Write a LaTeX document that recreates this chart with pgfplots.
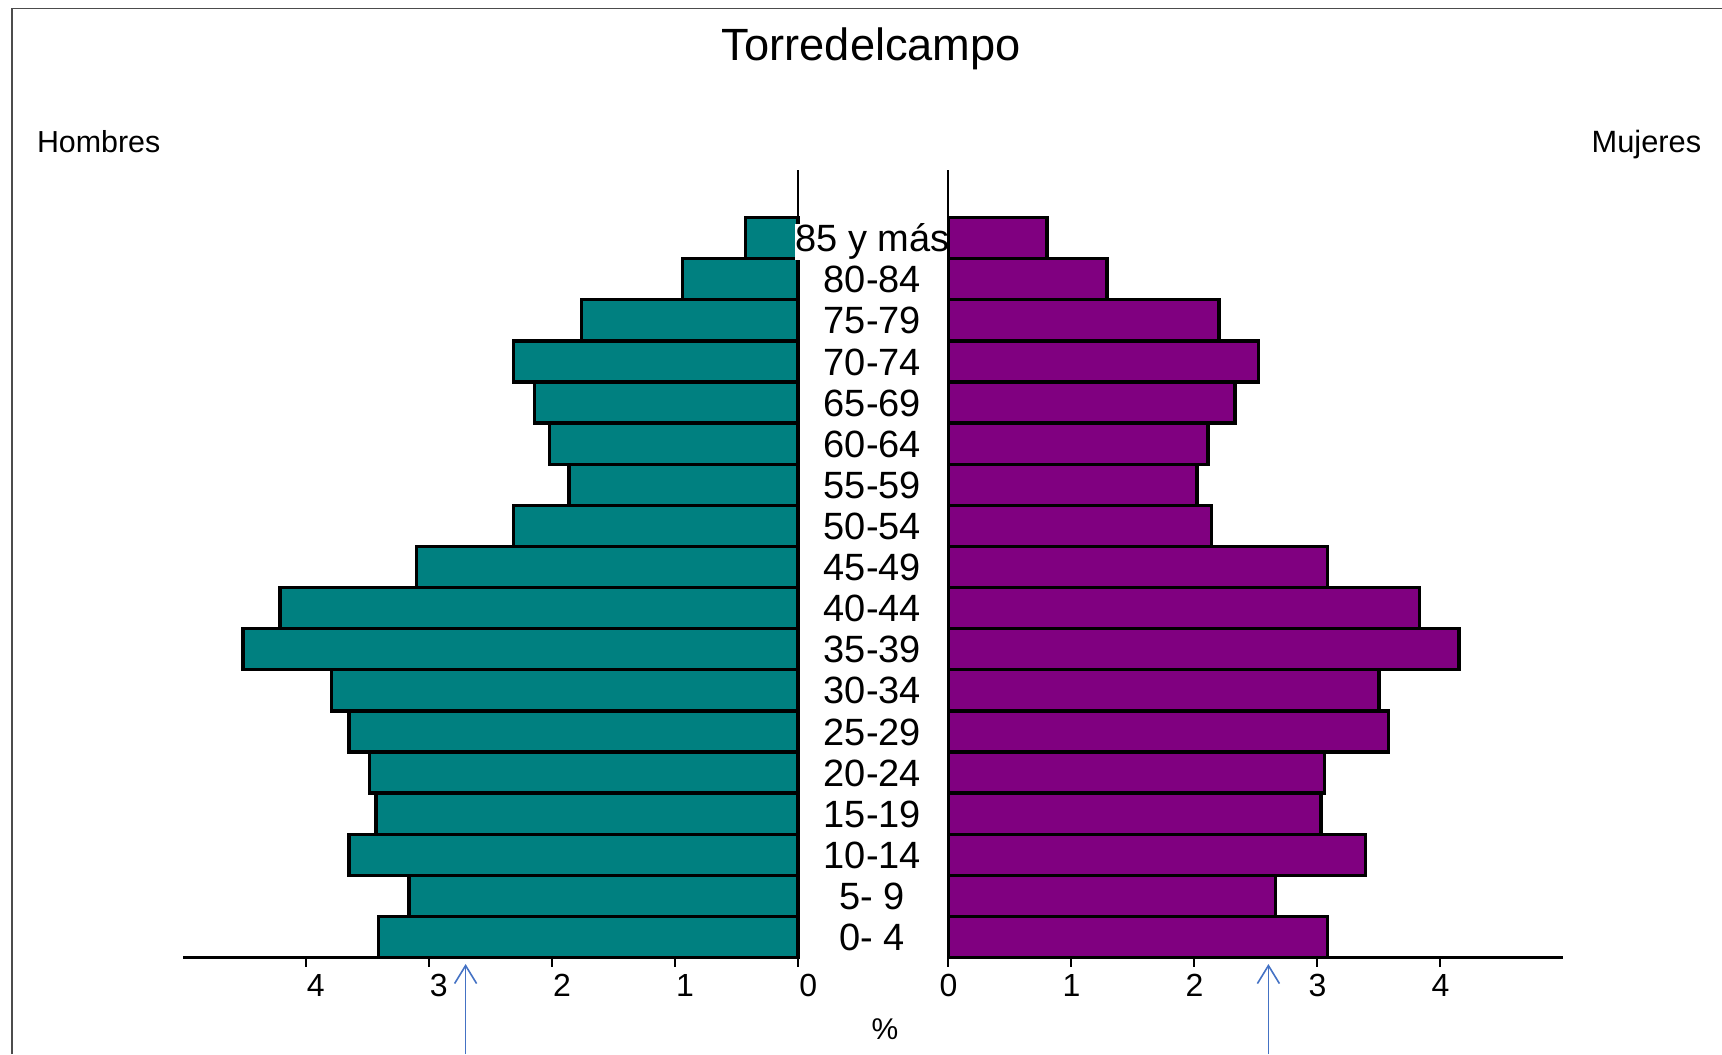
\documentclass[border=0pt]{standalone}
\usepackage{fontspec}
\setmainfont{Liberation Sans}
\usepackage{pgfplots}
\usepackage{pgfplotstable}
\pgfplotsset{compat=1.18}
\usetikzlibrary{arrows.meta}
\definecolor{menteal}{RGB}{0,128,128}
\definecolor{wompurple}{RGB}{128,0,128}
\definecolor{arrowblue}{RGB}{68,114,196}

\pgfplotstableread{
y men
0 3.41
1 3.16
2 3.65
3 3.43
4 3.48
5 3.65
6 3.79
7 4.51
8 4.21
9 3.10
10 2.31
11 1.86
12 2.02
13 2.14
14 2.31
15 1.76
16 0.94
17 0.43
}\menTable
\pgfplotstableread{
y women
0 3.08
1 2.66
2 3.39
3 3.03
4 3.06
5 3.58
6 3.50
7 4.15
8 3.83
9 3.08
10 2.14
11 2.02
12 2.11
13 2.33
14 2.52
15 2.20
16 1.29
17 0.80
}\womenTable

\pgfplotsset{
  pyr/.style={
    scale only axis,
    anchor=south west,
    height=196.85pt,
    xmin=0, xmax=5,
    ymin=-0.5, ymax=18.65,
    xbar, bar width=1,
    xtick={0,1,2,3,4},
    tick align=outside,
    major tick length=2.3pt,
    xtick style={black, line width=0.5pt},
    axis x line*=bottom,
    x axis line style={-, black, line width=0.8pt},
    /pgf/number format/assume math mode=true,
    xticklabel style={font=\fontsize{8}{9}\selectfont, yshift=1.7pt},
    clip=false,
  }
}

\begin{document}
\begin{tikzpicture}[x=0.25pt,y=0.25pt]
\useasboundingbox (0,0) rectangle (1722,1054);
\draw[gray!60!black, line width=0.4pt] (11.7,0) -- (11.7,1045.7) -- (1722,1045.7);

% Men (left)
\begin{axis}[pyr,
  at={(45.65pt,24.1pt)},
  width=153.9pt,
  x dir=reverse,
  hide y axis,
  xticklabel style={xshift=2.5pt},
]
\addplot[fill=menteal, draw=black, line width=0.85pt] table[x=men, y=y] {\menTable};
\draw[black, line width=0.5pt] (axis cs:0,-0.5) -- (axis cs:0,18.65);
\end{axis}

% Women (right)
\begin{axis}[pyr,
  at={(237.1pt,24.1pt)},
  width=153.75pt,
  axis y line*=left,
  y axis line style={-, black, line width=0.5pt},
  ytick={0,...,17},
  yticklabels={0- 4,5- 9,10-14,15-19,20-24,25-29,30-34,35-39,40-44,45-49,50-54,55-59,60-64,65-69,70-74,75-79,80-84,85 y más},
  ytick style={draw=none},
  yticklabel style={anchor=base, xshift=-16.7pt, yshift=-3.4pt, fill=white, inner sep=0pt, font=\fontsize{9.5}{11}\selectfont},
]
\addplot[fill=wompurple, draw=black, line width=0.85pt] table[x=women, y=y] {\womenTable};
\end{axis}

\node[anchor=base, inner sep=0pt, font=\fontsize{11.3}{13}\selectfont] at (871.4,993.6) {Torredelcampo};
\node[anchor=base west, inner sep=0pt, font=\fontsize{7.6}{9}\selectfont] at (36.2,901.4) {Hombres};
\node[anchor=base east, inner sep=0pt, font=\fontsize{7.7}{9}\selectfont] at (1702,901.4) {Mujeres};
\node[anchor=base, inner sep=0pt, font=\fontsize{7.5}{9}\selectfont] at (885,15) {\%};

\draw[arrowblue, line width=0.4pt, -{Straight Barb[length=4.5pt, width=5.5pt]}] (465.6,0) -- (465.6,90);
\draw[arrowblue, line width=0.4pt, -{Straight Barb[length=4.5pt, width=5.5pt]}] (1268.4,0) -- (1268.4,90);
\end{tikzpicture}
\end{document}
